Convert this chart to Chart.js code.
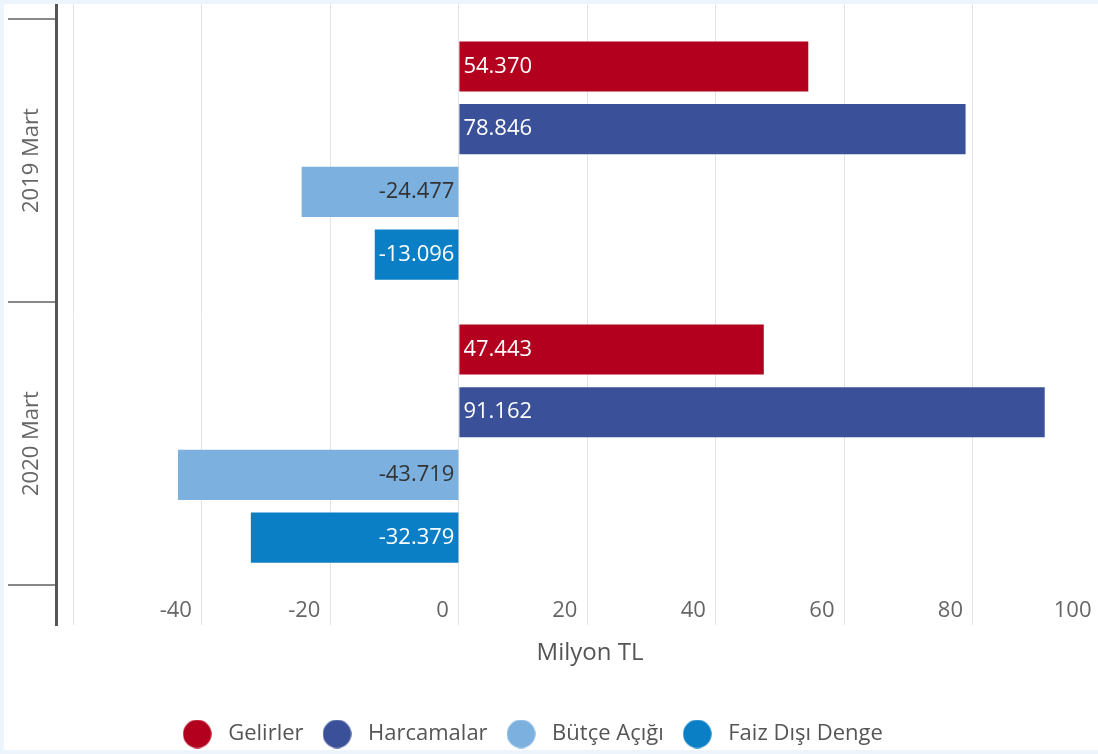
<!DOCTYPE html>
<html lang="tr">
<head>
<meta charset="utf-8">
<title>Bütçe Dengesi</title>
<script src="https://cdn.jsdelivr.net/npm/chart.js@4.4.1/dist/chart.umd.min.js"></script>
<style>
  html, body { margin: 0; padding: 0; background: #eef4fb; overflow: hidden; }
  #panel { position: absolute; left: 4px; top: 4px; width: 1094px; height: 746px; background: #fff; overflow: hidden; }
  #wrap { position: absolute; left: -68px; top: 0; width: 1188px; height: 751px; }
</style>
</head>
<body>
<div id="panel"><div id="wrap"><canvas id="chart"></canvas></div></div>
<script>
// veriler
const kategoriler = ['2019 Mart', '2020 Mart'];
const gelirler = [54.370, 47.443];
const harcamalar = [78.846, 91.162];
const butceAcigi = [-24.477, -43.719];
const faizDisiDenge = [-13.096, -32.379];
const xTikler = [-60, -40, -20, 0, 20, 40, 60, 80, 100];

const seriAdlari = ['Gelirler', 'Harcamalar', 'Bütçe Açığı', 'Faiz Dışı Denge'];
const renkler = ['#b3001e', '#3a5099', '#7cb1df', '#0a7fc6'];
const etiketRenkleri = ['#ffffff', '#ffffff', '#333333', '#ffffff'];

Chart.defaults.font.family = '"Open Sans", sans-serif';
Chart.defaults.font.size = 22;

// lejant için daire işaretleri
function daire(renk) {
    const c = document.createElement('canvas');
    c.width = 29;
    c.height = 29;
    const g = c.getContext('2d');
    g.fillStyle = renk;
    g.beginPath();
    g.arc(14.5, 14.5, 14.2, 0, Math.PI * 2);
    g.fill();
    return c;
}
const daireler = renkler.map(daire);

// çubukların içine değer yazıları
const degerEtiketleri = {
    id: 'degerEtiketleri',
    afterDatasetsDraw(chart) {
        const ctx = chart.ctx;
        ctx.save();
        ctx.font = '22px "Open Sans", sans-serif';
        ctx.textBaseline = 'middle';
        chart.data.datasets.forEach((ds, i) => {
            chart.getDatasetMeta(i).data.forEach((bar, j) => {
                const v = ds.data[j];
                ctx.fillStyle = etiketRenkleri[i];
                if (v >= 0) {
                    ctx.textAlign = 'left';
                    ctx.fillText(v.toFixed(3), bar.base + 4, bar.y);
                } else {
                    ctx.textAlign = 'right';
                    ctx.fillText(v.toFixed(3), bar.base - 4, bar.y);
                }
            });
        });
        ctx.restore();
    }
};

const seriler = [gelirler, harcamalar, butceAcigi, faizDisiDenge];

new Chart(document.getElementById('chart'), {
    type: 'bar',
    data: {
        labels: kategoriler,
        datasets: seriler.map((d, i) => ({
            label: seriAdlari[i],
            data: d,
            backgroundColor: renkler[i],
            borderWidth: 0,
            categoryPercentage: 0.886,
            barPercentage: 0.8
        }))
    },
    options: {
        indexAxis: 'y',
        responsive: true,
        maintainAspectRatio: false,
        animation: false,
        layout: { padding: 0 },
        plugins: {
            tooltip: { enabled: false },
            legend: {
                position: 'bottom',
                labels: {
                    usePointStyle: true,
                    pointStyleWidth: 40,
                    boxHeight: 20,
                    padding: 13.5,
                    color: '#555',
                    font: { size: 22 },
                    generateLabels(chart) {
                        return chart.data.datasets.map((ds, i) => ({
                            text: ds.label,
                            fillStyle: ds.backgroundColor,
                            strokeStyle: ds.backgroundColor,
                            lineWidth: 0,
                            pointStyle: daireler[i],
                            fontColor: '#555',
                            hidden: !chart.isDatasetVisible(i),
                            datasetIndex: i
                        }));
                    }
                }
            }
        },
        scales: {
            x: {
                min: -62.7,
                max: 103.5,
                afterBuildTicks(s) {
                    s.ticks = xTikler.map(v => ({ value: v }));
                },
                grid: { color: '#e3e3e3', lineWidth: 1, drawTicks: false },
                border: { display: false },
                ticks: {
                    mirror: true,
                    align: 'end',
                    labelOffset: -10,
                    padding: 1,
                    color: '#666',
                    font: { size: 22 },
                    callback: v => (v === -60 ? '' : v)
                },
                title: {
                    display: true,
                    text: 'Milyon TL',
                    color: '#555',
                    font: { size: 24 },
                    padding: { top: 0, bottom: 42 }
                },
                afterFit(s) {
                    s.height = 84.5;
                }
            },
            y: {
                afterBuildTicks(s) {
                    // kategori bandını grafik alanının içine kaydır
                    s._startValue = -0.553;
                    s._valueRange = 2.194;
                },
                grid: {
                    offset: true,
                    drawOnChartArea: false,
                    drawTicks: true,
                    tickLength: 48,
                    color: '#888',
                    lineWidth: 2
                },
                border: { display: true, color: '#555', width: 3 },
                ticks: {
                    minRotation: 90,
                    maxRotation: 90,
                    crossAlign: 'center',
                    padding: -76.5,
                    color: '#666',
                    font: { size: 22 }
                },
                afterFit(s) {
                    s.width = 120;
                }
            }
        }
    },
    plugins: [degerEtiketleri]
});
</script>
</body>
</html>
